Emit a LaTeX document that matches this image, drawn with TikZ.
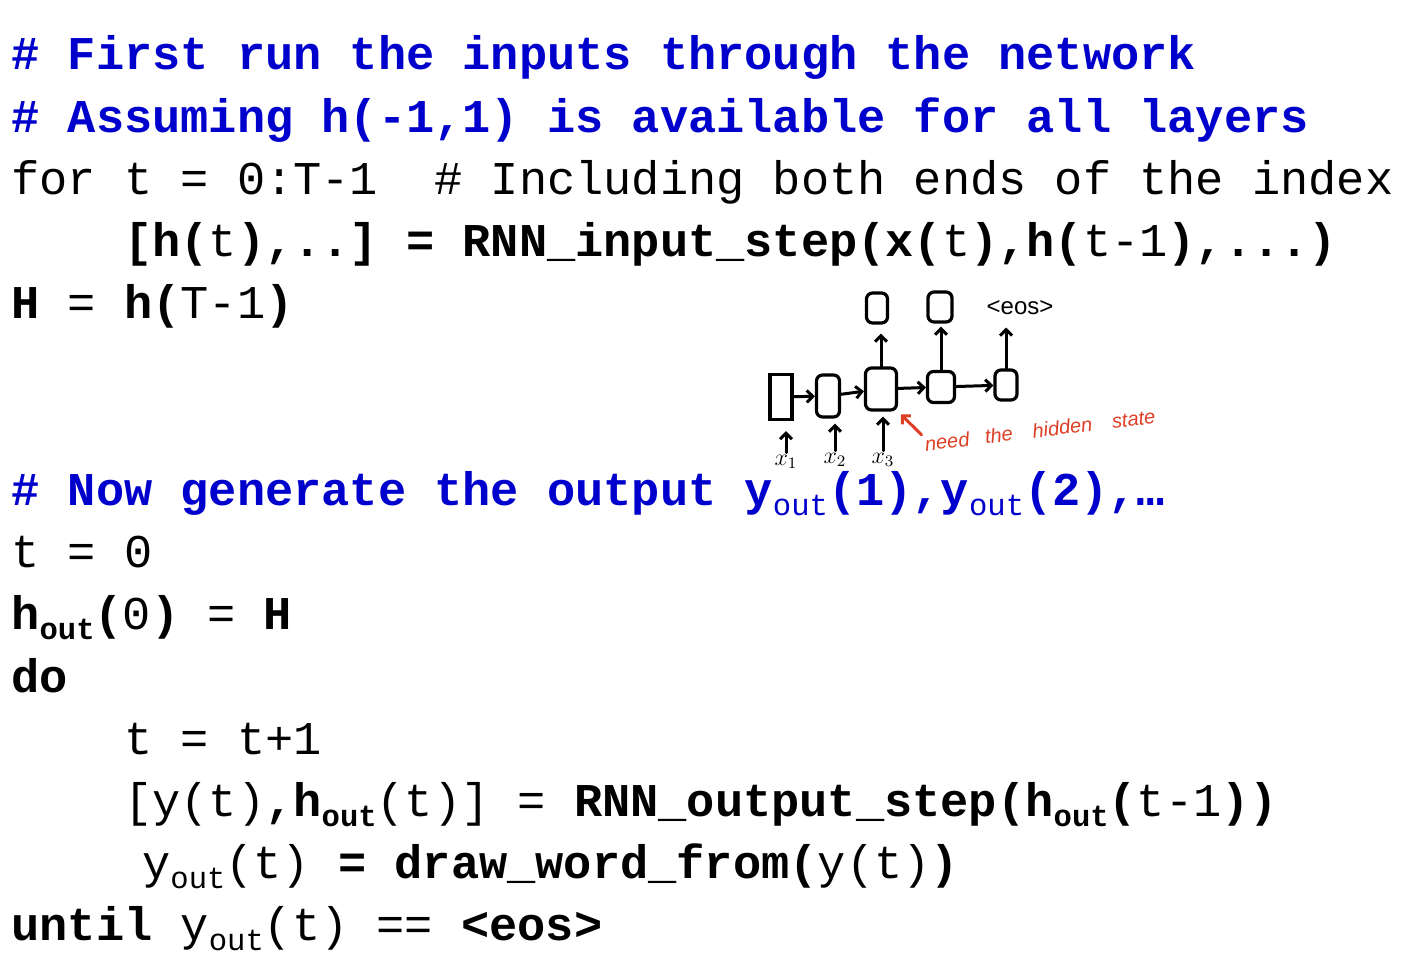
\documentclass[tikz,border=0pt]{standalone}
\usepackage{fontspec}
\setmainfont{Liberation Sans}
\setmonofont{Liberation Mono}
\usetikzlibrary{arrows.meta}
\definecolor{codeblue}{RGB}{0,0,204}
\definecolor{penred}{RGB}{222,62,36}
\newcommand\subout{\raisebox{-5pt}{\fontsize{15.3}{16}\selectfont out}}

\begin{document}
\begin{tikzpicture}[x=0.5pt,y=-0.5pt,
  code/.style={anchor=base west, inner sep=0pt, font=\ttfamily\fontsize{23.5}{28}\selectfont},
  comment/.style={code, text=codeblue, font=\ttfamily\bfseries\fontsize{23.5}{28}\selectfont},
  cell/.style={draw, line width=1.6pt, inner sep=0pt, rounded corners=3pt},
  pen/.style={line width=1.5pt, line cap=round, -{Straight Barb[length=3pt,width=6pt]}},
  ink/.style={inner sep=1pt, font=\fontsize{12}{12}\selectfont},
  note/.style={inner sep=1pt, text=penred, font=\itshape\fontsize{10}{10}\selectfont}]
				\useasboundingbox (0,0) rectangle (1406,952);
				
				% first pass over the inputs
				\node[comment] (l1) at (11,70) {\# First run the inputs through the network};
				\node[comment] (l2) at (11,132.2) {\# Assuming h(-1,1) is available for all layers};
				\node[code] (l3) at (11,194.4) {for t = 0:T-1~~\# Including both ends of the index};
				\node[code] (l4) at (11,256.6) {~~~~\textbf{[h(}t\textbf{),..] = RNN\_input\_step(x(}t\textbf{),h(}t-1\textbf{),...)}};
				\node[code] (l5) at (11,318.8) {\textbf{H} = \textbf{h(}T-1\textbf{)}};
				
				% generation loop
				\node[comment] (l8) at (11,505.4) {\# Now generate the output y\textmd{\subout}(1),y\textmd{\subout}(2),…};
				\node[code] (l9) at (11,567.6) {t = 0};
				\node[code] (l10) at (11,629.8) {\textbf{h\subout(}0\textbf{)} = \textbf{H}};
				\node[code] (l11) at (11,692) {\textbf{do}};
				\node[code] (l12) at (11,754.2) {~~~~t = t+1};
				\node[code] (l13) at (11,816.4) {~~~~[y(t)\textbf{,h\subout}(t)] = \textbf{RNN\_output\_step(h\subout(}t-1\textbf{))}};
				\node[code] (l14) at (11,878.6) {~~~~\hspace{9pt}y\subout(t) \textbf{= draw\_word\_from(}y(t)\textbf{)}};
				\node[code] (l15) at (11,940.8) {\textbf{until} y\subout(t) == \textbf{<eos>}};
				
				% sketch of the unrolled net
				\node[cell, sharp corners, minimum width=11pt, minimum height=22.5pt] (c1) at (781,397) {};
				\node[cell, minimum width=11.5pt, minimum height=21pt] (c2) at (828,396) {};
				\node[cell, minimum width=15.5pt, minimum height=21pt] (c3) at (881,389) {};
				\node[cell, minimum width=13.5pt, minimum height=15.5pt] (c4) at (941,387) {};
				\node[cell, minimum width=11pt, minimum height=15pt] (c5) at (1006,385) {};
				\node[cell, minimum width=10.5pt, minimum height=15pt] (o3) at (877,308) {};
				\node[cell, minimum width=12pt, minimum height=15pt] (o4) at (940,307) {};
				\node[ink] (eos) at (1020,308) {<eos>};
				\node[ink] (x1) at (786,462) {$x_1$};
				\node[ink] (x2) at (835,460) {$x_2$};
				\node[ink] (x3) at (883,460) {$x_3$};
				\node[note, rotate=7] (need) at (1040,430) {need\hspace{8pt}the\hspace{10pt}hidden\hspace{10pt}state};
				
				\draw[pen] (c1) -- (c2);
				\draw[pen] (c2) -- (c3);
				\draw[pen] (c3) -- (c4);
				\draw[pen] (c4) -- (c5);
				\draw[pen, shorten >=5pt] (x1) -- (x1 |- c1.south);
				\draw[pen, shorten >=2.5pt] (x2) -- (x2 |- c2.south);
				\draw[pen, shorten >=2.5pt] (x3) -- (x3 |- c3.south);
				\draw[pen, shorten >=4.5pt] (c3.north) -- (c3.north |- o3.south);
				\draw[pen, shorten >=1.5pt] (c4.north) -- (c4.north |- o4.south);
				\draw[pen, shorten >=5pt] (c5.north) -- (c5.north |- eos.south);
				\draw[pen, penred, shorten >=2pt] (need.north west) -- (c3.south east);
			\end{tikzpicture}
\end{document}
